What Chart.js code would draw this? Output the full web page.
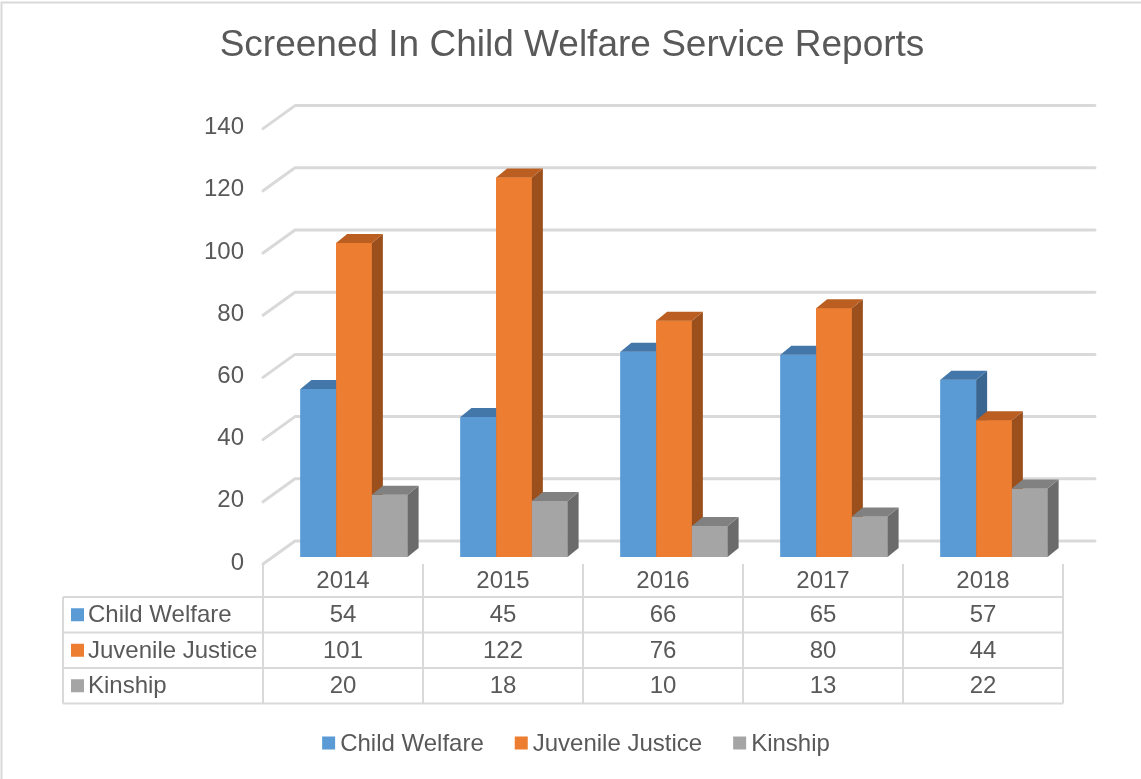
<!DOCTYPE html>
<html>
<head>
<meta charset="utf-8">
<title>Screened In Child Welfare Service Reports</title>
<script src="https://cdn.jsdelivr.net/npm/chart.js@4"></script>
<style>
  html, body { margin: 0; padding: 0; background: #ffffff; }
  canvas { display: block; }
</style>
</head>
<body>
<canvas id="chart" width="1141" height="779"></canvas>
<script>
// ---- data ----
const years = ['2014', '2015', '2016', '2017', '2018'];
const childWelfare = [54, 45, 66, 65, 57];
const juvenileJustice = [101, 122, 76, 80, 44];
const kinship = [20, 18, 10, 13, 22];
const yTicks = [0, 20, 40, 60, 80, 100, 120, 140];
const seriesNames = ['Child Welfare', 'Juvenile Justice', 'Kinship'];
const titleText = 'Screened In Child Welfare Service Reports';

// ---- styling ----
const frontColors = ['#5B9BD5', '#ED7D31', '#A5A5A5'];
const topColors = ['#4477A9', '#BA5F21', '#818181'];
const sideColors = ['#3A6690', '#9B4F1C', '#6B6B6B'];
const FONT = '"Liberation Sans", Arial, sans-serif';
const TEXT = '#595959';
const GRID = '#d9d9d9';
const DEPTH_X = 11, DEPTH_Y = -9;       // bar depth offset
const BACK_DX = 21, BACK_DY = -16;      // back wall offset for gridlines
const FRONT_DX = -11, FRONT_DY = 7;     // front floor edge offset
const ROW_H = 35.5;

const seriesValues = [childWelfare, juvenileJustice, kinship];

function geom(chart) {
  const xs = chart.scales.x, ys = chart.scales.y;
  const cat = xs.width / years.length;
  const left = chart.chartArea.left + FRONT_DX;
  const zeroFront = ys.getPixelForValue(0) + FRONT_DY;
  return { xs, ys, cat, left, zeroFront };
}

const decor = {
  id: 'decor',
  beforeDatasetsDraw(chart) {
    const ctx = chart.ctx;
    const { ys, left } = geom(chart);
    const area = chart.chartArea;
    ctx.save();

    // outer frame (top and left edges)
    ctx.strokeStyle = GRID;
    ctx.lineWidth = 2;
    ctx.beginPath();
    ctx.moveTo(1.5, chart.height);
    ctx.lineTo(1.5, 2.5);
    ctx.lineTo(chart.width, 2.5);
    ctx.stroke();

    // title
    ctx.fillStyle = TEXT;
    ctx.font = '37px ' + FONT;
    ctx.textAlign = 'center';
    ctx.textBaseline = 'middle';
    ctx.fillText(titleText, 572, 46);

    // gridlines: floor edge + back wall
    ctx.lineCap = 'round';
    ctx.lineJoin = 'round';
    yTicks.forEach(v => {
      const p = ys.getPixelForValue(v);
      ctx.strokeStyle = GRID;
      ctx.lineWidth = 3;
      ctx.beginPath();
      ctx.moveTo(left, p + FRONT_DY);
      ctx.lineTo(area.left + BACK_DX, p + BACK_DY);
      ctx.lineTo(area.right + BACK_DX, p + BACK_DY);
      ctx.stroke();

      ctx.fillStyle = TEXT;
      ctx.font = '24px ' + FONT;
      ctx.textAlign = 'right';
      ctx.textBaseline = 'middle';
      ctx.fillText(String(v), left - 19, p + FRONT_DY - 1);
    });
    ctx.restore();
  },

  afterDatasetsDraw(chart) {
    const ctx = chart.ctx;
    ctx.save();
    for (let i = 0; i < years.length; i++) {
      for (let d = 0; d < seriesValues.length; d++) {
        const el = chart.getDatasetMeta(d).data[i];
        const { x, y, base, width } = el.getProps(['x', 'y', 'base', 'width'], true);
        const l = x - width / 2, r = x + width / 2;
        // front face
        ctx.fillStyle = frontColors[d];
        ctx.fillRect(l, y, width, base - y);
        // side face
        ctx.fillStyle = sideColors[d];
        ctx.beginPath();
        ctx.moveTo(r, y);
        ctx.lineTo(r + DEPTH_X, y + DEPTH_Y);
        ctx.lineTo(r + DEPTH_X, base + DEPTH_Y);
        ctx.lineTo(r, base);
        ctx.closePath();
        ctx.fill();
        // top face
        ctx.fillStyle = topColors[d];
        ctx.beginPath();
        ctx.moveTo(l, y);
        ctx.lineTo(l + DEPTH_X, y + DEPTH_Y);
        ctx.lineTo(r + DEPTH_X, y + DEPTH_Y);
        ctx.lineTo(r, y);
        ctx.closePath();
        ctx.fill();
      }
    }
    ctx.restore();
  },

  afterDraw(chart) {
    const ctx = chart.ctx;
    const { cat, left, zeroFront } = geom(chart);
    const right = left + cat * years.length;
    const labelLeft = 63;
    const headTop = zeroFront;
    const rowsTop = 597;
    ctx.save();
    ctx.strokeStyle = GRID;
    ctx.lineWidth = 2;

    // horizontal rules
    for (let r = 0; r <= seriesNames.length; r++) {
      const yy = rowsTop + r * ROW_H;
      ctx.beginPath();
      ctx.moveTo(labelLeft, yy);
      ctx.lineTo(right, yy);
      ctx.stroke();
    }
    const bottom = rowsTop + seriesNames.length * ROW_H;
    // vertical rules
    ctx.beginPath();
    ctx.moveTo(labelLeft, rowsTop);
    ctx.lineTo(labelLeft, bottom);
    ctx.stroke();
    for (let c = 0; c <= years.length; c++) {
      const xx = left + c * cat;
      ctx.beginPath();
      ctx.moveTo(xx, headTop);
      ctx.lineTo(xx, bottom);
      ctx.stroke();
    }

    ctx.font = '24px ' + FONT;
    ctx.textBaseline = 'middle';
    ctx.fillStyle = TEXT;
    ctx.textAlign = 'center';
    years.forEach((yr, c) => {
      ctx.fillText(yr, left + (c + 0.5) * cat, (headTop + rowsTop) / 2 + 1);
    });
    seriesNames.forEach((name, r) => {
      const cy = rowsTop + (r + 0.5) * ROW_H;
      ctx.fillStyle = frontColors[r];
      ctx.fillRect(71, cy - 6.5, 13, 13);
      ctx.fillStyle = TEXT;
      ctx.textAlign = 'left';
      ctx.fillText(name, 88, cy + 1);
      ctx.textAlign = 'center';
      seriesValues[r].forEach((v, c) => {
        ctx.fillText(String(v), left + (c + 0.5) * cat, cy + 1);
      });
    });

    // bottom legend
    const ly = 743;
    const gap = 31, sw = 13, tg = 5;
    const widths = seriesNames.map(n => ctx.measureText(n).width);
    const total = widths.reduce((a, w) => a + sw + tg + w, 0) + gap * (seriesNames.length - 1);
    let lx = 576 - total / 2;
    seriesNames.forEach((name, k) => {
      ctx.fillStyle = frontColors[k];
      ctx.fillRect(lx, ly - 6.5, sw, sw);
      ctx.fillStyle = TEXT;
      ctx.textAlign = 'left';
      ctx.fillText(name, lx + sw + tg, ly + 1);
      lx += sw + tg + widths[k] + gap;
    });
    ctx.restore();
  }
};

new Chart(document.getElementById('chart'), {
  type: 'bar',
  data: {
    labels: years,
    datasets: seriesNames.map((name, d) => ({
      label: name,
      data: seriesValues[d],
      backgroundColor: frontColors[d],
      borderWidth: 0,
      categoryPercentage: 0.67,
      barPercentage: 1.0
    }))
  },
  options: {
    responsive: false,
    animation: false,
    devicePixelRatio: 1,
    layout: { padding: { left: 274, right: 67, top: 121.6, bottom: 222 } },
    plugins: {
      legend: { display: false },
      title: { display: false },
      tooltip: { enabled: false }
    },
    scales: {
      x: { display: false },
      y: { display: false, min: 0, max: 140 }
    }
  },
  plugins: [decor]
});
</script>
</body>
</html>
